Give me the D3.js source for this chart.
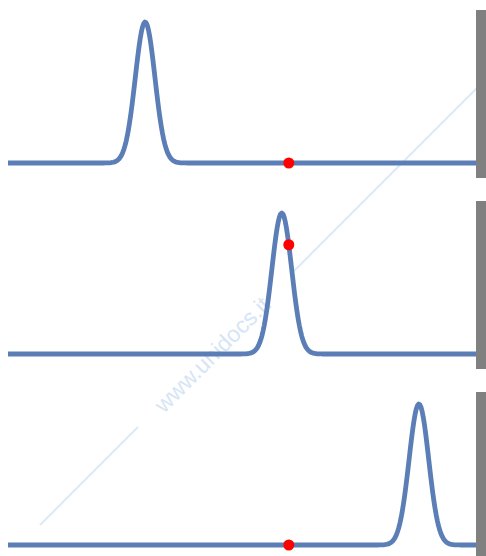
<!DOCTYPE html>
<html>
<head>
<meta charset="utf-8">
<script src="https://cdn.jsdelivr.net/npm/d3@7"></script>
<style>
  html, body { margin: 0; padding: 0; background: #ffffff; }
  svg { display: block; }
</style>
</head>
<body>
<div id="chart"></div>
<script>
// ---- data ----
const panels = ["top", "middle", "bottom"];
const peakCenters = [29.3, 58.5, 87.8];   // x position of each peak (0..100 axis)
const peakWidth = 2.1;                    // standard deviation of each peak
const peakHeight = [1, 1, 1];             // relative amplitude
const markerX = [60, 60, 60];             // red marker x in each panel
const xDomain = [0, 100];
const yDomain = [0, 1];
const watermarkText = "www.unidocs.it";

// ---- layout ----
const W = 486, H = 556;
const panelTops = [10, 201, 392];
const panelH = 153;          // baseline offset from panel top
const plotLeft = 8, plotRight = 476;

const svg = d3.select("#chart").append("svg")
  .attr("width", W).attr("height", H);

const x = d3.scaleLinear().domain(xDomain).range([plotLeft, plotRight]);

// watermark (drawn first, underneath)
const wm = svg.append("g").attr("class", "watermark");
wm.append("line")
  .attr("x1", 40).attr("y1", 525).attr("x2", 138).attr("y2", 427)
  .attr("stroke", "#dde9f6").attr("stroke-width", 2);
wm.append("line")
  .attr("x1", 294).attr("y1", 271).attr("x2", 480).attr("y2", 85)
  .attr("stroke", "#dde9f6").attr("stroke-width", 2);
wm.append("text")
  .attr("transform", "translate(164,414) rotate(-45)")
  .attr("font-family", "Liberation Sans, Arial, sans-serif")
  .attr("font-size", 23)
  .attr("fill", "#d6e5f5")
  .text(watermarkText);

const gauss = (v, mu, s, a) => a * Math.exp(-((v - mu) ** 2) / (2 * s * s));
const samples = d3.range(xDomain[0], xDomain[1] + 0.0001, 0.25);

panels.forEach((name, i) => {
  const top = panelTops[i];
  const y = d3.scaleLinear().domain(yDomain).range([top + panelH, top + 12]);
  const g = svg.append("g").attr("class", "panel-" + name);

  const line = d3.line()
    .x(d => x(d))
    .y(d => y(gauss(d, peakCenters[i], peakWidth, peakHeight[i])))
    .curve(d3.curveLinear);

  g.append("path")
    .datum(samples)
    .attr("d", line)
    .attr("fill", "none")
    .attr("stroke", "#5b7eb6")
    .attr("stroke-width", 4.8)
    .attr("stroke-linejoin", "round");

  g.append("circle")
    .attr("cx", x(markerX[i]))
    .attr("cy", y(gauss(markerX[i], peakCenters[i], peakWidth, peakHeight[i])))
    .attr("r", 5.5)
    .attr("fill", "#ff0000");

  // gray bar at right edge
  g.append("rect")
    .attr("x", plotRight)
    .attr("y", top)
    .attr("width", W - plotRight)
    .attr("height", 168)
    .attr("fill", "#808080");
});
</script>
</body>
</html>
